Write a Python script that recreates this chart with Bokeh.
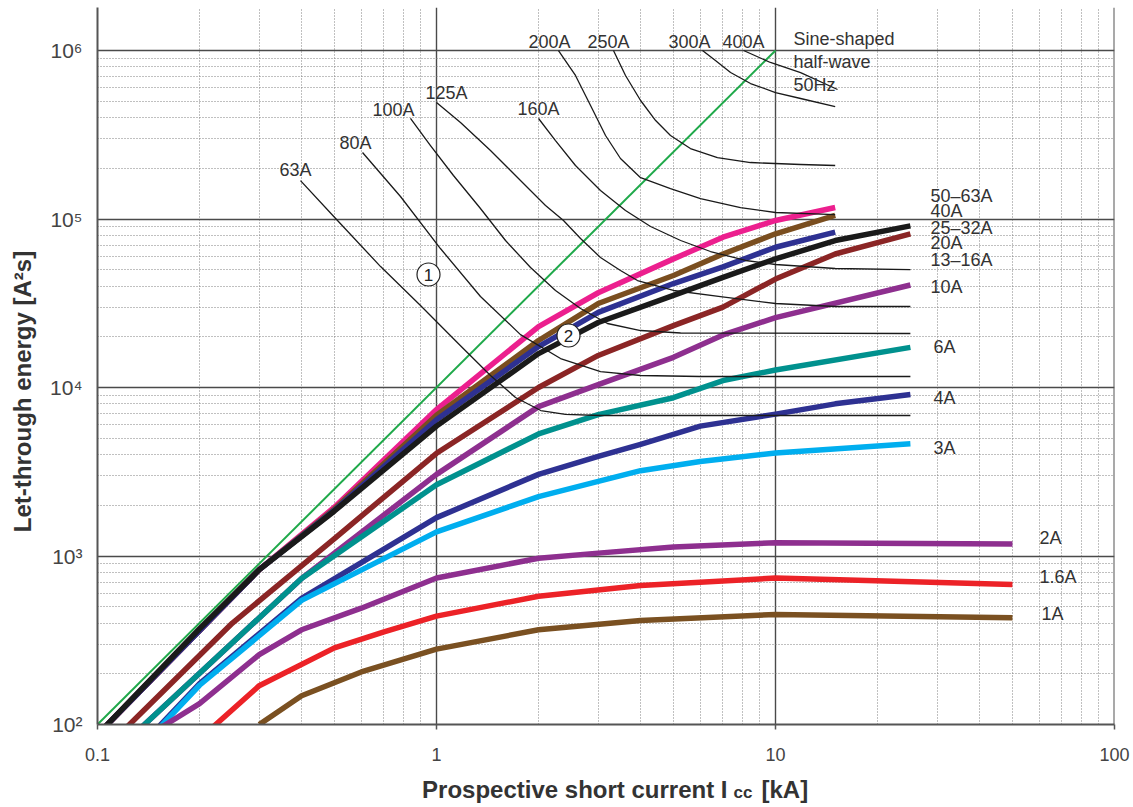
from bokeh.plotting import figure
from bokeh.layouts import column, row
from bokeh.models import Range1d, CustomJSTickFormatter, Span
from bokeh.core.properties import value
from bokeh.embed import file_html
from bokeh.resources import INLINE

# ---------------- data ----------------
sine_x = [0.1, 10]
sine_y = [100, 1000000]

# MCB let-through curves (kA, A^2 s)
mcb_labels = ["50–63A", "40A", "25–32A", "20A", "13–16A", "10A", "6A", "4A", "3A", "2A", "1.6A", "1A"]

m50_x = [0.1, 0.3, 0.5, 1, 2, 3, 5, 7, 10, 15]
m50_y = [87, 830, 1950, 7400, 23000, 36500, 58000, 78000, 98000, 117000]
m40_x = [0.1, 0.3, 0.5, 1, 2, 3, 5, 7, 10, 15]
m40_y = [87, 830, 1900, 6850, 19000, 31500, 46200, 62000, 81700, 105000]
m25_x = [0.1, 0.3, 0.5, 1, 2, 3, 5, 7, 10, 15]
m25_y = [87, 830, 1870, 6430, 17500, 27900, 41400, 52000, 68000, 83500]
m20_x = [0.1, 0.2, 0.3, 0.5, 1, 2, 3, 5, 7, 10, 15, 25]
m20_y = [87, 370, 830, 1850, 5900, 15900, 24300, 35200, 45000, 58000, 74500, 91000]
m13_x = [0.1, 0.25, 0.5, 1, 2, 3, 5, 7, 10, 15, 25]
m13_y = [65, 400, 1270, 4070, 10000, 15500, 23300, 30000, 44000, 62000, 81700]
m10_x = [0.1, 0.4, 1, 2, 3, 5, 7, 10, 25]
m10_y = [55, 736, 3050, 7700, 10400, 15100, 20500, 26000, 40600]
m6_x = [0.1, 0.4, 1, 2, 3, 5, 7, 10, 25]
m6_y = [55, 736, 2650, 5300, 6900, 8700, 11000, 12700, 17300]
m4_x = [0.1, 0.2, 0.4, 1, 2, 3, 4, 6, 10, 15, 25]
m4_y = [40, 175, 561, 1690, 3050, 3900, 4600, 5900, 6950, 8000, 9100]
m3_x = [0.1, 0.2, 0.4, 1, 2, 3, 4, 6, 10, 25]
m3_y = [39, 171, 545, 1390, 2250, 2770, 3210, 3640, 4090, 4630]
m2_x = [0.1, 0.2, 0.3, 0.4, 0.6, 1, 2, 3, 5, 10, 50]
m2_y = [56, 133, 260, 365, 490, 740, 970, 1040, 1130, 1200, 1180]
m16_x = [0.2, 0.3, 0.5, 0.7, 1, 2, 4, 10, 50]
m16_y = [82, 170, 285, 355, 440, 577, 668, 740, 677]
m1_x = [0.3, 0.4, 0.6, 1, 2, 4, 10, 50]
m1_y = [100, 148, 205, 280, 365, 414, 450, 430]

# fuse curves
fuse_labels = ["63A", "80A", "100A", "125A", "160A", "200A", "250A", "300A", "400A"]
f63_x = [0.397, 0.504, 0.684, 0.897, 1.177, 1.443, 1.71, 2.03, 2.40, 3.05, 25]
f63_y = [169000, 100700, 52200, 30700, 17700, 11780, 8725, 7300, 6920, 6820, 6820]
f80_x = [0.605, 0.783, 1.027, 1.348, 1.769, 2.322, 3.046, 4.0, 6.0, 25]
f80_y = [248000, 136000, 66800, 34700, 20600, 14860, 12440, 11780, 11620, 11620]
f100_x = [0.838, 0.960, 1.122, 1.348, 1.598, 1.894, 2.244, 2.66, 3.194, 4.0, 5.25, 25]
f100_y = [395000, 273000, 181200, 115400, 74560, 51540, 37650, 29430, 23980, 21790, 21060, 20920]
f125_x = [1.0, 1.177, 1.443, 1.769, 2.097, 2.369, 2.66, 3.046, 3.489, 3.916, 5.0, 6.88, 10, 15, 25]
f125_y = [491000, 374000, 255000, 169200, 120300, 98000, 76600, 59100, 49480, 43150, 37650, 34670,
          31510, 30250, 30250]
f160_x = [2.0, 2.244, 2.57, 3.046, 3.61, 4.28, 5.25, 6.43, 8.16, 10, 15, 25]
f160_y = [395000, 292000, 207800, 147600, 112300, 90300, 74560, 64140, 56730, 53700, 50850, 50120]
f200_x = [2.29, 2.57, 2.847, 3.152, 3.489, 4.0, 4.90, 6.008, 7.885, 10, 15]
f200_y = [1000000, 711000, 472000, 313000, 228600, 175900, 151700, 132300, 117000, 109300, 106300]
f250_x = [3.327, 3.61, 4.0, 4.43, 4.90, 5.61, 6.74, 8.44, 11.86, 15]
f250_y = [1000000, 711000, 505000, 384000, 313000, 262000, 231700, 216400, 210600, 207800]
f300_x = [6.09, 6.65, 7.37, 8.44, 10, 11.86, 15]
f300_y = [1000000, 872000, 740000, 637000, 563000, 519000, 465000]
f400_x = [8.05, 9.66, 11.86, 15.24]
f400_y = [1000000, 849000, 740000, 587000]

x_ticks = [0.1, 1, 10, 100]
y_ticks = [100, 1000, 10000, 100000, 1000000]

# ---------------- layout geometry (page pixels) ----------------
YT_W = 40            # width of the y-title strip
FL, FT = 97, 7       # frame left / top on the page
FW, FH = 1017, 717   # frame size
MAIN_H = 770
XT_H = 35

p = figure(x_axis_type="log", y_axis_type="log",
           x_range=Range1d(0.1, 100), y_range=Range1d(100, 1.8e6),
           frame_width=FW, frame_height=FH,
           min_border_left=FL - YT_W, min_border_right=1133 - FL - FW,
           min_border_top=FT, min_border_bottom=MAIN_H - FT - FH,
           output_backend="svg", toolbar_location=None)
p.outline_line_color = None
p.background_fill_color = "white"

# page-pixel helpers for annotation placement
def dx(px):
    return 10 ** (-1 + (px - 97) / 339.0)

def dy(py):
    return 10 ** (2 + (724 - py) / 168.5)

# grid
for g in (p.xgrid, p.ygrid):
    g.grid_line_color = "#4a4a4a"
    g.grid_line_width = 1.4
    g.minor_grid_line_color = "#808080"
    g.minor_grid_line_width = 1
    g.minor_grid_line_dash = "1 2"
p.add_layout(Span(location=100, dimension="height", line_color="#555555", line_width=2))

# axes
for ax in (p.xaxis, p.yaxis):
    ax.axis_line_color = "#555555"
    ax.axis_line_width = 2
    ax.minor_tick_line_color = None
    ax.major_label_text_font = "Liberation Sans"
    ax.major_label_text_color = "#444444"
p.xaxis.ticker.num_minor_ticks = 10
p.yaxis.ticker.num_minor_ticks = 10
p.xaxis.major_tick_out = 5
p.xaxis.major_tick_in = 0
p.xaxis.major_tick_line_color = "#555555"
p.xaxis.major_tick_line_width = 1.5
p.xaxis.major_label_standoff = 18
p.xaxis.major_label_text_font_size = "18px"
p.yaxis.major_tick_line_color = None
p.yaxis.major_tick_out = 0
p.yaxis.major_tick_in = 0
p.yaxis.major_label_standoff = 11
p.yaxis.major_label_text_font_size = "21px"
p.xaxis.formatter = CustomJSTickFormatter(code="return tick < 1 ? tick.toFixed(1) : tick.toFixed(0);")
p.yaxis.formatter = CustomJSTickFormatter(code="""
const e = Math.round(Math.log10(tick));
const sup = {2:'\u00b2', 3:'\u00b3', 4:'\u2074', 5:'\u2075', 6:'\u2076'};
return '10' + (sup[e] || '');
""")

# sine half-wave
p.line(sine_x, sine_y, line_color="#1fa94a", line_width=2)

# MCB curves (drawn back to front)
mcb = [
    (m50_x, m50_y, "#ec1f8e"),
    (m40_x, m40_y, "#7a4e1f"),
    (m25_x, m25_y, "#2e3192"),
    (m13_x, m13_y, "#8b2525"),
    (m10_x, m10_y, "#8e2f8f"),
    (m6_x, m6_y, "#00918e"),
    (m4_x, m4_y, "#2e3192"),
    (m3_x, m3_y, "#00aeef"),
    (m2_x, m2_y, "#8e2f8f"),
    (m16_x, m16_y, "#ec2227"),
    (m1_x, m1_y, "#7a5021"),
    (m20_x, m20_y, "#1a1a1a"),
]
for xs, ys, c in mcb:
    p.line(xs, ys, line_color=c, line_width=5.5, line_join="round")

# fuse curves
for xs, ys in [(f63_x, f63_y), (f80_x, f80_y), (f100_x, f100_y), (f125_x, f125_y),
               (f160_x, f160_y), (f200_x, f200_y), (f250_x, f250_y), (f300_x, f300_y),
               (f400_x, f400_y)]:
    p.line(xs, ys, line_color="#1a1a1a", line_width=1.3, line_join="round")

TF = value("Liberation Sans")
TC = "#333333"

# right-side MCB labels (page pixel positions)
mcb_lab_pos = [(930, 195), (930, 210), (930, 227), (930, 242), (930, 259), (930, 286),
               (933, 346), (933, 397), (933, 447), (1039, 537), (1039, 576), (1041, 613)]
p.text(x=[dx(a) for a, b in mcb_lab_pos], y=[dy(b) for a, b in mcb_lab_pos], text=mcb_labels,
       text_font=TF, text_font_size="18px", text_color=TC,
       text_align="left", text_baseline="middle")

# fuse labels
fuse_lab_pos = [(279, 169), (339, 142), (372, 109), (425, 92), (517, 108),
                (528, 41), (587, 41), (668, 41), (722, 41)]
p.text(x=[dx(a) for a, b in fuse_lab_pos], y=[dy(b) for a, b in fuse_lab_pos], text=fuse_labels,
       text_font=TF, text_font_size="18px", text_color=TC,
       text_align="left", text_baseline="middle")

# sine label
p.text(x=[dx(793)] * 3, y=[dy(38), dy(61), dy(84)], text=["Sine-shaped", "half-wave", "50Hz"],
       text_font=TF, text_font_size="18px", text_color=TC,
       text_align="left", text_baseline="middle")

# circled numbers
cx = [dx(428), dx(568)]
cy = [dy(274), dy(335)]
p.scatter(cx, cy, size=23, marker="circle", fill_color="white", line_color="#222222", line_width=1.2)
p.text(x=cx, y=cy, text=["1", "2"], text_font=TF, text_font_size="17px", text_color="#222222",
       text_align="center", text_baseline="middle")


def blank(w, h):
    f = figure(title=None, frame_width=w, frame_height=h, x_range=Range1d(0, w), y_range=Range1d(0, h),
               x_axis_location=None, y_axis_location=None, min_border=0,
               output_backend="svg", toolbar_location=None)
    f.outline_line_color = None
    f.xgrid.visible = False
    f.ygrid.visible = False
    return f


# y-axis title strip
yt = blank(YT_W, MAIN_H)
yt.text(x=[22], y=[MAIN_H - 384], text=["Let-through energy [A²s]"], angle=1.5707963,
        text_font=TF, text_font_style="bold", text_font_size="24px", text_color=TC,
        text_align="center", text_baseline="middle")

# x-axis title strip (subscript shares the baseline of the main text)
xt = blank(1133, XT_H)
page_bottom = MAIN_H + XT_H
E = 727
xt.text(x=[E], y=[page_bottom - 789], text=["Prospective short current I"],
        text_font=TF, text_font_style="bold", text_font_size="24px", text_color=TC,
        text_align="right", text_baseline="middle")
xt.text(x=[E + 6], y=[page_bottom - 792], text=["cc"],
        text_font=TF, text_font_style="bold", text_font_size="17px", text_color=TC,
        text_align="left", text_baseline="middle")
xt.text(x=[E + 34], y=[page_bottom - 789], text=["[kA]"],
        text_font=TF, text_font_style="bold", text_font_size="24px", text_color=TC,
        text_align="left", text_baseline="middle")

layout = column(row(yt, p), xt)
open("out.html", "w").write(file_html(layout, INLINE))
